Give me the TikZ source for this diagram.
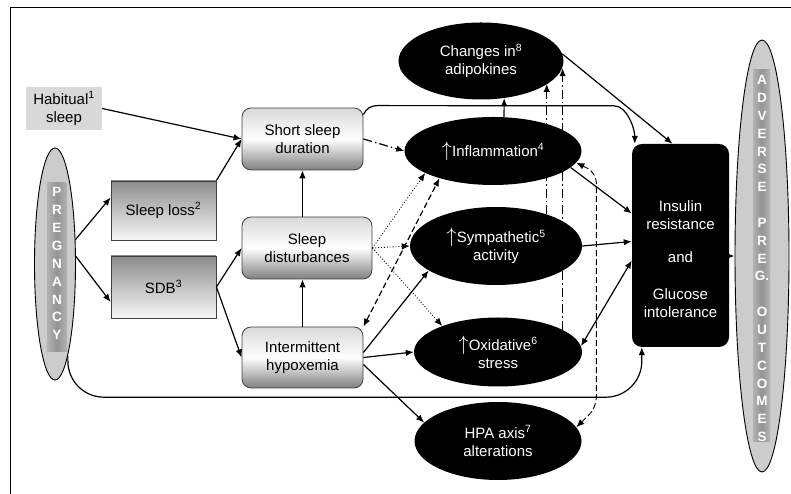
\documentclass[tikz,border=0pt]{standalone}
\usepackage{fontspec}
\setmainfont{Liberation Sans}
\usetikzlibrary{shapes.geometric,arrows.meta,calc}
\newcommand{\upmark}{{\fontsize{21}{18}\selectfont$\uparrow$}}
\tikzset{
	box/.style={draw=black!75, line width=0.8pt, minimum width=105pt, top color=black!45, bottom color=black!3, font=\fontsize{15}{18}\selectfont},
	rbox/.style={draw=black!75, line width=0.8pt, rounded corners=9pt, top color=black!15, bottom color=black!50, middle color=white, align=center, font=\fontsize{15}{18}\selectfont, minimum width=121pt, minimum height=62pt},
	blob/.style={ellipse, fill=black, text=white, align=center, inner sep=0pt, font=\fontsize{15}{18}\selectfont},
	lane/.style={ellipse, draw=black, line width=0.9pt, fill=black!20, inner sep=0pt},
	band/.style={left color=black!30, right color=black!30, middle color=black!42},
	letter/.style={text=white, font=\fontsize{13.5}{13}\selectfont\bfseries, inner sep=0pt},
	arr/.style={line width=1.2pt, -{Latex[length=8pt,width=6.5pt]}},
	biarr/.style={line width=1.2pt, {Latex[length=8pt,width=6.5pt]}-{Latex[length=8pt,width=6.5pt]}},
	dotarr/.style={arr, line width=0.9pt, dotted},
	dasharr/.style={biarr, dash pattern=on 6pt off 3pt},
	dotdash/.style={arr, dash pattern=on 9pt off 3pt on 1.5pt off 3pt},
}
\begin{document}
\begin{tikzpicture}[x=1pt,y=1pt]
	\useasboundingbox (0,0) rectangle (791,494);
	\draw[line width=0.8pt] (10,0) -- (10,487) -- (791,487);

	\node[lane, minimum width=41pt, minimum height=232pt] (preg) at (55,230) {};
	\shade[band] (47,142) rectangle (67,311);
	\foreach \c [count=\i from 0] in {P,R,E,G,N,A,N,C,Y}
		\node[letter] at (57,302-17.9*\i) {\c};

	\node[lane, minimum width=54pt, minimum height=432pt] (adv) at (762,238) {};
	\shade[band] (753,52) rectangle (770,424);
	\foreach \i/\c in {0/A,1/D,2/V,3/E,4/R,5/S,6/E,8/P,9/R,10/E,11/G.,13/O,14/U,15/T,16/C,17/O,18/M,19/E,20/S}
		\node[letter] at (762,414-17.85*\i) {\c};

	\node[fill=black!15, minimum width=76pt, minimum height=43pt, align=center, font=\fontsize{15}{18}\selectfont] (habit) at (64,385.5) {Habitual\textsuperscript{1}\\sleep};
	\node[box, minimum height=59pt] (loss) at (163.5,283.5) {Sleep loss\textsuperscript{2}};
	\node[box, minimum height=62pt] (sdb) at (163.5,207) {SDB\textsuperscript{3}};

	\node[rbox] (ssd) at (302.5,355) {Short sleep\\duration};
	\node[rbox, minimum width=130pt] (dist) at (307,246) {Sleep\\disturbances};
	\node[rbox, minimum height=61pt] (hypo) at (302.5,136.5) {Intermittent\\hypoxemia};

	\node[blob, minimum width=165pt, minimum height=77pt] (adipo) at (481,433) {Changes in\textsuperscript{8}\\adipokines};
	\node[blob, minimum width=177pt, minimum height=68pt] (infl) at (493,343) {\upmark Inflammation\textsuperscript{4}};
	\node[blob, minimum width=172pt, minimum height=78pt] (symp) at (496,248) {\upmark Sympathetic\textsuperscript{5}\\activity};
	\node[blob, minimum width=168pt, minimum height=69pt] (oxid) at (498,142) {\upmark Oxidative\textsuperscript{6}\\stress};
	\node[blob, minimum width=167pt, minimum height=78pt] (hpa) at (498,53) {HPA axis\textsuperscript{7}\\alterations};

	\node[fill=black, rounded corners=10pt, minimum width=97pt, minimum height=203pt] (ins) at (680.5,248.5) {};
	\node[text=white, align=center, font=\fontsize{15}{18}\selectfont] (insTxt) at ($(ins.center)+(0,-14)$) {Insulin\\resistance\\[15pt]and\\[19pt]Glucose\\intolerance};

	\draw[arr] (habit.east) -- (ssd.west);
	\draw[arr] (preg.50) -- ($(loss.west)+(0,13)$);
	\draw[arr] (preg.20) -- ($(sdb.west)+(0,-15)$);
	\draw[arr] (loss.north east) -- (ssd.west);
	\draw[arr] (sdb.east) -- (dist.west);
	\draw[arr] (sdb.east) -- (hypo.west);
	\draw[arr] (ssd.south |- dist.north) -- (ssd.south);
	\draw[arr] (hypo.north) -- (hypo.north |- dist.south);

	\draw[dotdash] (ssd.east) -- (infl.west);
	\draw[arr] ($(ssd.north east)+(0,-7)$) .. controls +(3,6) and +(-8,0) .. ($(ssd.north east)+(15,2)$) -- ($(ins.north west)+(-18,38)$) .. controls +(14,0) and +(0,14) .. ($(ins.north west)+(3,0)$);
	\draw[arr] (infl.72) -- (adipo.-58);
	\draw[arr] (adipo.5) -- ($(ins.north)+(-8,0)$);
	\draw[arr] (infl.-12) -- ($(ins.west)+(0,32)$);
	\draw[arr] (symp.east) -- ($(ins.west)+(0,4)$);
	\draw[biarr] (oxid.4) -- ($(ins.west)+(0,-15)$);
	\draw[arr] (ins.east |- adv.west) -- (adv.west);

	\draw[dasharr] (hypo.north east) -- (infl.207);
	\draw[dotarr] (dist.east) -- (infl.198);
	\draw[dotarr] (dist.east) -- (symp.west);
	\draw[dotarr] (dist.east) -- (oxid.155);
	\draw[arr] ($(hypo.east)+(0,5)$) -- (symp.200);
	\draw[arr] (hypo.east) -- (oxid.west);
	\draw[arr] ($(hypo.east)+(0,-7)$) -- (hpa.166);
	\draw[arr, rounded corners=36pt] (preg.-82) |- ($(ins.south west)+(10,-50)$) -- ($(ins.south west)+(10,0)$);

	\draw[dotdash] (symp.32) -- (symp.32 |- adipo.-19);
	\draw[dotdash] (oxid.19) -- (oxid.19 |- adipo.-5);
	\draw[dasharr, line width=0.9pt, rounded corners=10pt] (infl.-8) -- ++(20,-10) -- ++(0,-235) -- (hpa.10);

\end{tikzpicture}
\end{document}
